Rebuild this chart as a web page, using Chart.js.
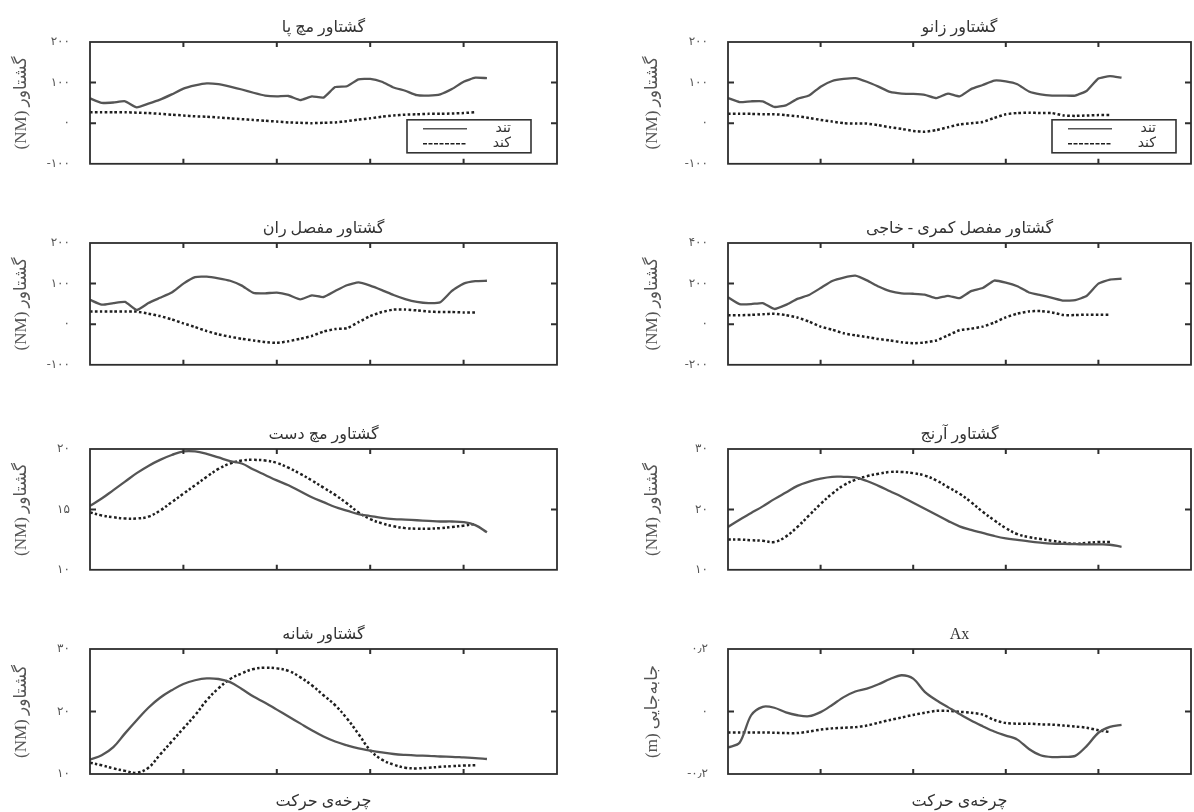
<!DOCTYPE html>
<html lang="fa">
<head>
<meta charset="utf-8">
<script src="https://cdn.jsdelivr.net/npm/chart.js@4.4.1/dist/chart.umd.min.js"></script>
<style>
  html, body { margin: 0; padding: 0; background: #fff; overflow: hidden; }
  body { width: 1194px; height: 812px; position: relative; }
  canvas { position: absolute; }
</style>
</head>
<body>
<script>
// x positions of the samples (share of the motion cycle)
const cycle = [0, 2.5, 5, 7.5, 10, 12.5, 15, 17.5, 20, 22.5, 25, 27.5, 30, 32.5, 35, 37.5, 40, 42.5,
  45, 47.5, 50, 52.5, 55, 57.5, 60, 62.5, 65, 67.5, 70, 72.5, 75, 77.5, 80, 82.5, 85];

const titles = ['گشتاور مچ پا', 'گشتاور زانو', 'گشتاور مفصل ران', 'گشتاور مفصل کمری - خاجی',
  'گشتاور مچ دست', 'گشتاور آرنج', 'گشتاور شانه', 'Ax'];
const seriesNames = ['تند', 'کند'];
const torqueLabel = 'گشتاور (NM)';
const moveLabel = 'جابه‌جایی (m)';
const cycleLabel = 'چرخه‌ی حرکت';

// y tick labels (bottom to top)
const ticksHundred = ['-۱۰۰', '۰', '۱۰۰', '۲۰۰'];
const ticksLumbar = ['-۲۰۰', '۰', '۲۰۰', '۴۰۰'];
const ticksWrist = ['۱۰', '۱۵', '۲۰'];
const ticksThirty = ['۱۰', '۲۰', '۳۰'];
const ticksAx = ['-۰٫۲', '۰', '۰٫۲'];

// values: solid = تند, dotted = کند
const ankleFast = [61, 50, 51, 54, 39, 48, 58, 71, 85, 93, 98, 96, 90, 83, 75, 68, 66, 67, 57, 66, 63, 89, 91, 108, 109, 102, 88, 80, 69, 68, 71, 84, 102, 112, 111];
const ankleSlow = [27, 27, 27, 27, 26, 25, 23, 21, 19, 17, 16, 14, 12, 10, 8, 6, 4, 2, 1, 0, 1, 2, 5, 9, 12, 16, 19, 21, 22, 23, 23, 24, 25, 27];
const kneeFast = [62, 52, 54, 54, 40, 44, 60, 68, 90, 104, 109, 111, 102, 90, 77, 73, 72, 70, 62, 73, 66, 84, 94, 105, 103, 96, 78, 71, 68, 68, 68, 80, 110, 116, 112];
const kneeSlow = [23, 23, 23, 22, 22, 20, 17, 13, 8, 4, 0, -1, -1, -5, -10, -14, -19, -21, -17, -10, -3, 0, 3, 13, 22, 25, 26, 25, 25, 19, 18, 19, 20, 20];
const hipFast = [60, 48, 52, 55, 35, 52, 65, 78, 100, 116, 117, 113, 107, 95, 77, 76, 78, 72, 61, 71, 67, 82, 96, 103, 95, 84, 72, 62, 55, 52, 54, 82, 100, 106, 107];
const hipSlow = [31, 31, 31, 31, 31, 26, 20, 12, 2, -7, -17, -25, -31, -36, -40, -44, -46, -42, -36, -29, -18, -12, -10, 5, 20, 30, 36, 36, 34, 31, 30, 30, 29, 29];
const lumbarFast = [133, 99, 99, 104, 75, 95, 125, 144, 178, 213, 230, 239, 216, 186, 163, 152, 150, 146, 128, 140, 128, 163, 178, 215, 205, 187, 156, 143, 130, 116, 118, 140, 200, 220, 224];
const lumbarSlow = [44, 44, 46, 49, 52, 45, 33, 13, -12, -27, -45, -55, -63, -73, -80, -89, -94, -90, -80, -55, -30, -22, -12, 8, 34, 52, 63, 65, 58, 45, 45, 47, 47, 47];
const wristFast = [15.3, 15.9, 16.6, 17.3, 18.0, 18.6, 19.1, 19.5, 19.8, 19.8, 19.6, 19.3, 19.0, 18.8, 18.3, 17.85, 17.4, 17.0, 16.5, 16.0, 15.6, 15.2, 14.9, 14.6, 14.45, 14.3, 14.2, 14.15, 14.1, 14.05, 14.0, 14.0, 13.95, 13.7, 13.1];
const wristSlow = [14.75, 14.5, 14.35, 14.25, 14.25, 14.4, 14.9, 15.6, 16.3, 17.0, 17.7, 18.35, 18.8, 19.05, 19.1, 19.05, 18.85, 18.45, 17.95, 17.4, 16.8, 16.2, 15.5, 14.75, 14.2, 13.85, 13.6, 13.45, 13.4, 13.4, 13.45, 13.55, 13.65, 13.8];
const elbowFast = [17.1, 18.3, 19.4, 20.5, 21.7, 22.8, 23.9, 24.6, 25.1, 25.4, 25.4, 25.3, 24.7, 23.9, 23.0, 22.1, 21.1, 20.1, 19.1, 18.1, 17.2, 16.6, 16.1, 15.6, 15.2, 14.95, 14.7, 14.5, 14.35, 14.3, 14.25, 14.2, 14.2, 14.15, 13.8];
const elbowSlow = [15.0, 15.0, 14.9, 14.8, 14.6, 15.5, 17.1, 19.0, 20.9, 22.6, 24.0, 24.9, 25.5, 25.9, 26.2, 26.2, 26.0, 25.6, 24.8, 23.7, 22.6, 21.2, 19.6, 18.2, 16.9, 15.9, 15.4, 15.1, 14.8, 14.5, 14.3, 14.45, 14.6, 14.6];
const shoulderFast = [12.3, 13.0, 14.3, 16.5, 18.6, 20.6, 22.2, 23.4, 24.4, 25.0, 25.3, 25.2, 24.7, 23.6, 22.4, 21.4, 20.3, 19.2, 18.1, 17.0, 16.0, 15.2, 14.6, 14.1, 13.75, 13.45, 13.2, 13.05, 12.95, 12.9, 12.8, 12.75, 12.65, 12.55, 12.4];
const shoulderSlow = [11.8, 11.4, 10.9, 10.5, 10.2, 11.0, 13.1, 15.2, 17.3, 19.4, 21.8, 23.7, 25.2, 26.1, 26.8, 27.0, 26.9, 26.5, 25.5, 24.2, 22.6, 21.0, 18.9, 16.4, 13.8, 12.3, 11.5, 11.0, 10.9, 11.0, 11.15, 11.25, 11.35, 11.4];
const axFast = [-0.115, -0.1, -0.012, 0.015, 0.012, -0.003, -0.012, -0.015, -0.002, 0.021, 0.046, 0.064, 0.073, 0.087, 0.104, 0.116, 0.105, 0.063, 0.036, 0.014, -0.008, -0.029, -0.047, -0.064, -0.077, -0.09, -0.12, -0.14, -0.146, -0.145, -0.142, -0.11, -0.068, -0.049, -0.043];
const axSlow = [-0.067, -0.067, -0.067, -0.067, -0.068, -0.069, -0.069, -0.064, -0.058, -0.054, -0.052, -0.05, -0.045, -0.036, -0.027, -0.019, -0.011, -0.004, 0.002, 0.002, -0.001, -0.004, -0.01, -0.027, -0.037, -0.039, -0.039, -0.041, -0.042, -0.045, -0.048, -0.052, -0.06, -0.066];

const panels = [
  { fast: ankleFast, slow: ankleSlow, min: -100, max: 200, step: 100, labels: ticksHundred, legend: true, smooth: 0.15 },
  { fast: kneeFast, slow: kneeSlow, min: -100, max: 200, step: 100, labels: ticksHundred, legend: true, smooth: 0.15 },
  { fast: hipFast, slow: hipSlow, min: -100, max: 200, step: 100, labels: ticksHundred, smooth: 0.15 },
  { fast: lumbarFast, slow: lumbarSlow, min: -200, max: 400, step: 200, labels: ticksLumbar, smooth: 0.15 },
  { fast: wristFast, slow: wristSlow, min: 10, max: 20, step: 5, labels: ticksWrist, smooth: 0.4 },
  { fast: elbowFast, slow: elbowSlow, min: 10, max: 30, step: 10, labels: ticksThirty, smooth: 0.4 },
  { fast: shoulderFast, slow: shoulderSlow, min: 10, max: 30, step: 10, labels: ticksThirty, smooth: 0.4 },
  { fast: axFast, slow: axSlow, min: -0.2, max: 0.2, step: 0.2, labels: ticksAx, smooth: 0.3, yLabel: moveLabel }
];

// page layout
const colLeft = [0, 638], canvasW = [567, 556], padRight = [10, 3], yTitlePad = [13, 6], legendGap = [26, 15];
const rowTop = [42, 243, 449, 649], rowBottom = [171, 372, 577, 774];
const serif = "'Liberation Serif', 'DejaVu Sans', serif";

const frameTicks = {
  id: 'frameTicks',
  afterDatasetsDraw(chart) {
    const { ctx, chartArea: a, scales: { x, y } } = chart;
    ctx.save();
    ctx.strokeStyle = '#2e2e2e';
    ctx.lineWidth = 1.8;
    ctx.strokeRect(a.left, a.top, a.right - a.left, a.bottom - a.top);
    ctx.lineWidth = 2;
    ctx.beginPath();
    x.ticks.forEach(t => {
      if (t.value <= x.min || t.value >= x.max) return;
      const px = x.getPixelForValue(t.value);
      ctx.moveTo(px, a.top); ctx.lineTo(px, a.top + 5);
      ctx.moveTo(px, a.bottom); ctx.lineTo(px, a.bottom - 5);
    });
    y.ticks.forEach(t => {
      if (t.value <= y.min + 1e-9 || t.value >= y.max - 1e-9) return;
      const py = y.getPixelForValue(t.value);
      ctx.moveTo(a.left, py); ctx.lineTo(a.left + 6, py);
      ctx.moveTo(a.right, py); ctx.lineTo(a.right - 6, py);
    });
    ctx.stroke();
    ctx.restore();
  }
};

const insideLegend = {
  id: 'insideLegend',
  afterDraw(chart, args, opts) {
    if (!opts.show) return;
    const { ctx, chartArea: a } = chart;
    const w = 124, h = 33;
    const x0 = a.right - opts.gap - w, y0 = a.bottom - 11 - h;
    ctx.save();
    ctx.fillStyle = '#fff';
    ctx.fillRect(x0, y0, w, h);
    ctx.strokeStyle = '#333';
    ctx.lineWidth = 1.6;
    ctx.strokeRect(x0, y0, w, h);
    chart.data.datasets.forEach((ds, i) => {
      const yy = y0 + 9 + i * 15;
      ctx.strokeStyle = ds.borderColor;
      ctx.lineWidth = 1.5;
      ctx.setLineDash(i ? [4, 1.5] : []);
      ctx.beginPath();
      ctx.moveTo(x0 + 16, yy);
      ctx.lineTo(x0 + 60, yy);
      ctx.stroke();
      ctx.setLineDash([]);
      ctx.fillStyle = '#333';
      ctx.font = '14px ' + serif;
      ctx.textAlign = 'right';
      ctx.textBaseline = 'middle';
      ctx.fillText(ds.label, x0 + w - 20, yy);
    });
    ctx.restore();
  }
};

panels.forEach((p, k) => {
  const col = k % 2, row = Math.floor(k / 2);
  const bottomRow = row === 3;
  const xh = bottomRow ? 38 : 12;
  const canvas = document.createElement('canvas');
  canvas.width = canvasW[col];
  canvas.height = 32 + rowBottom[row] - rowTop[row] + xh;
  canvas.style.left = colLeft[col] + 'px';
  canvas.style.top = (rowTop[row] - 32) + 'px';
  document.body.appendChild(canvas);

  new Chart(canvas.getContext('2d'), {
    type: 'line',
    data: {
      datasets: [
        {
          label: seriesNames[0],
          data: p.fast.map((v, i) => ({ x: cycle[i], y: v })),
          borderColor: '#555',
          borderWidth: 2.3,
          tension: p.smooth
        },
        {
          label: seriesNames[1],
          data: p.slow.map((v, i) => ({ x: cycle[i], y: v })),
          borderColor: '#1f1f1f',
          borderWidth: 2.5,
          borderDash: [2.6, 2.3],
          tension: p.smooth
        }
      ]
    },
    options: {
      responsive: false,
      animation: false,
      layout: { padding: { top: 10, right: padRight[col], left: 0, bottom: 0 } },
      elements: { point: { radius: 0 } },
      plugins: {
        legend: { display: false },
        tooltip: { enabled: false },
        title: {
          display: true,
          fullSize: false,
          text: titles[k],
          color: '#333',
          font: { family: serif, size: 16, weight: 'normal', lineHeight: 1 },
          padding: { top: 0, bottom: 6 }
        },
        insideLegend: { show: !!p.legend, gap: legendGap[col] }
      },
      scales: {
        x: {
          type: 'linear',
          min: 0,
          max: 100,
          ticks: { display: false, stepSize: 20 },
          grid: { display: false },
          border: { display: false },
          title: {
            display: bottomRow,
            text: cycleLabel,
            color: '#333',
            font: { family: serif, size: 16, lineHeight: 1 },
            padding: { top: 0, bottom: 2 }
          },
          afterFit: s => { s.height = xh; }
        },
        y: {
          min: p.min,
          max: p.max,
          ticks: {
            stepSize: p.step,
            padding: 12,
            color: '#555',
            font: { family: serif, size: 12 },
            callback: (v, i) => p.labels[i]
          },
          grid: { display: false },
          border: { display: false },
          title: {
            display: true,
            text: '\u202B' + (p.yLabel || torqueLabel) + '\u202C',
            color: '#555',
            font: { family: serif, size: 17, lineHeight: 1 },
            padding: { top: yTitlePad[col], bottom: 0 }
          },
          afterFit: s => { s.width = 90; }
        }
      }
    },
    plugins: [frameTicks, insideLegend]
  });
});
</script>
</body>
</html>
